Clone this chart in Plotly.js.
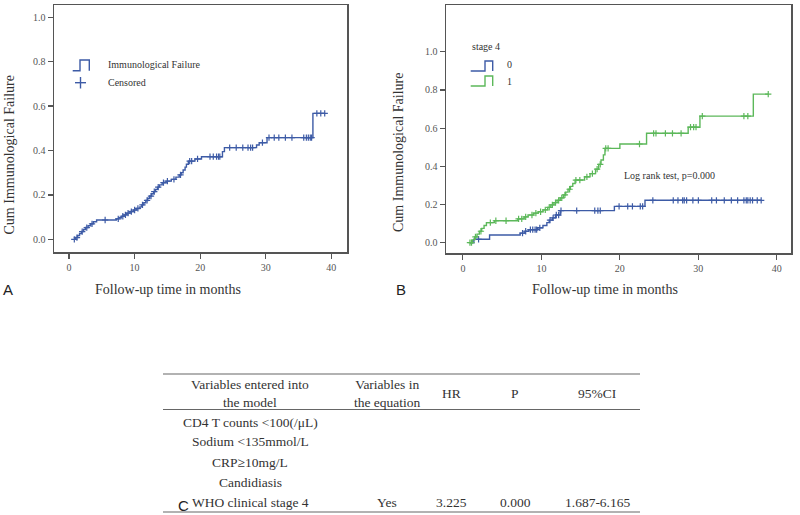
<!DOCTYPE html>
<html>
<head>
<meta charset="utf-8">
<script src="https://cdn.plot.ly/plotly-3.0.1.min.js"></script>
<style>html,body{margin:0;padding:0;background:#fff;}#chart{width:800px;height:515px;}</style>
</head>
<body>
<div id="chart"></div>
<script>
// ---------- Panel A: overall cumulative immunological failure ----------
const allStepTime = [0.8,1.0,1.3,1.6,1.9,2.2,2.5,2.9,3.3,3.7,4.2,7.2,7.6,8.0,8.4,8.8,9.3,9.8,10.3,10.8,11.1,11.4,11.7,12.0,12.3,12.6,12.9,13.2,13.5,13.8,14.2,14.8,15.6,16.3,16.8,17.1,17.4,17.7,17.9,18.2,19.2,20.2,23.4,23.7,28.6,29.0,30.2,37.2];
const allStepCum  = [0.0,0.008,0.017,0.026,0.035,0.044,0.053,0.061,0.070,0.079,0.087,0.092,0.097,0.104,0.110,0.118,0.125,0.132,0.139,0.146,0.155,0.165,0.175,0.185,0.195,0.205,0.215,0.225,0.235,0.245,0.255,0.262,0.270,0.280,0.290,0.300,0.312,0.325,0.338,0.352,0.362,0.372,0.395,0.413,0.425,0.435,0.458,0.567];
const allCensTime = [0.8,1.2,2.0,2.7,3.5,5.5,7.5,8.2,8.6,9.0,9.5,10.0,10.5,11.2,11.9,12.5,13.0,13.6,14.4,15.0,16.0,17.0,18.4,18.7,19.6,21.5,22.0,22.5,22.8,23.0,24.5,25.5,26.5,27.3,27.7,28.0,29.5,30.5,31.3,32.0,33.0,34.0,35.8,36.2,36.5,36.8,37.0,37.8,38.4,39.0];

// ---------- Panel B: by WHO stage 4 ----------
const stage0StepTime = [0.9,1.4,3.4,7.3,7.9,8.4,9.5,10.2,10.7,11.0,11.4,11.8,12.4,19.3,23.2];
const stage0StepCum  = [0.0,0.018,0.040,0.050,0.060,0.068,0.078,0.090,0.105,0.118,0.130,0.145,0.168,0.190,0.222];
const stage0CensTime = [2.0,7.6,8.0,8.6,8.9,9.2,9.4,9.8,11.1,11.5,11.9,12.2,12.5,14.5,16.8,17.2,17.5,19.9,21.0,21.6,22.6,22.9,24.2,26.8,27.4,28.0,28.2,28.5,29.3,30.0,31.7,32.3,33.3,34.2,35.0,35.8,36.1,36.3,36.6,36.9,37.5,38.0];
const stage1StepTime = [0.9,1.2,1.5,1.8,2.1,2.4,2.7,3.0,4.0,7.0,7.8,8.3,9.0,9.6,10.2,10.8,11.2,11.6,12.0,12.4,12.8,13.1,13.4,13.7,14.0,14.3,15.5,16.2,16.9,17.3,17.6,17.9,18.1,20.0,23.4,28.7,30.2,37.0];
const stage1StepCum  = [0.0,0.015,0.030,0.045,0.060,0.075,0.090,0.105,0.115,0.125,0.135,0.145,0.155,0.162,0.172,0.185,0.198,0.210,0.222,0.235,0.250,0.265,0.280,0.295,0.310,0.328,0.345,0.362,0.385,0.410,0.433,0.460,0.494,0.517,0.573,0.605,0.663,0.778];
const stage1CensTime = [0.9,1.1,1.6,2.3,3.5,4.2,5.5,7.1,7.5,8.0,8.8,9.3,9.9,10.5,11.0,11.4,11.8,12.2,12.6,13.0,13.6,14.4,14.9,15.8,16.5,17.1,17.5,18.2,18.5,22.5,24.3,24.6,25.8,26.7,27.8,29.0,29.4,29.7,30.5,35.8,36.3,38.9];

// ---------- Panel C: table ----------
const tableHeaders = ["Variables entered into<br>the model","Variables in<br>the equation","HR","P","95%CI"];
const tableVariables = ["CD4 T counts <100(/μL)","Sodium <135mmol/L","CRP≥10mg/L","Candidiasis","WHO clinical stage 4"];
const tableInEquation = ["","","","","Yes"];
const tableHR = ["","","","","3.225"];
const tableP = ["","","","","0.000"];
const tableCI = ["","","","","1.687-6.165"];

const tickVals = [0,0.2,0.4,0.6,0.8,1.0];
const tickText = ["0.0","0.2","0.4","0.6","0.8","1.0"];
const xTickVals = [0,10,20,30,40];

const BLUE = "#3d5ba6", GREEN = "#5cb85a";
const SERIF = "Liberation Serif, Times New Roman, serif";
const SANS = "Liberation Sans, Arial, sans-serif";

function stepAt(ts, vs, t) {
  let v = vs[0];
  for (let i = 0; i < ts.length; i++) if (ts[i] <= t) v = vs[i];
  return v;
}
function curve(ts, vs, cens, color, xa, ya) {
  const lastT = Math.max(ts[ts.length-1], Math.max(...cens));
  return {
    x: ts.concat([lastT]), y: vs.concat([vs[vs.length-1]]),
    xaxis: xa, yaxis: ya, type: "scatter", mode: "lines",
    line: {color: color, width: 1.4, shape: "hv"}, showlegend: false, hoverinfo: "skip"
  };
}
function censor(ts, vs, cens, color, xa, ya) {
  return {
    x: cens, y: cens.map(t => stepAt(ts, vs, t)),
    xaxis: xa, yaxis: ya, type: "scatter", mode: "markers",
    marker: {symbol: "cross-thin-open", size: 4.5, line: {color: color, width: 1.2}, color: color},
    showlegend: false, hoverinfo: "skip"
  };
}

const data = [
  curve(allStepTime, allStepCum, allCensTime, BLUE, "x", "y"),
  censor(allStepTime, allStepCum, allCensTime, BLUE, "x", "y"),
  curve(stage0StepTime, stage0StepCum, stage0CensTime, BLUE, "x2", "y2"),
  censor(stage0StepTime, stage0StepCum, stage0CensTime, BLUE, "x2", "y2"),
  curve(stage1StepTime, stage1StepCum, stage1CensTime, GREEN, "x2", "y2"),
  censor(stage1StepTime, stage1StepCum, stage1CensTime, GREEN, "x2", "y2")
];

const P = (px) => px / 800;
const Q = (py) => 1 - py / 515;

const axisCommon = {
  showline: true, mirror: true, linecolor: "#555", linewidth: 1.5,
  ticks: "outside", ticklen: 5, tickwidth: 1.2, tickcolor: "#555",
  showgrid: false, zeroline: false,
  tickfont: {family: SERIF, size: 10, color: "#555"}
};

const annotations = [];
const shapes = [];
function txt(text, x, y, size, opts) {
  annotations.push(Object.assign({
    text: text, x: P(x), y: Q(y), xref: "paper", yref: "paper",
    showarrow: false, xanchor: "center", yanchor: "middle",
    font: {family: SERIF, size: size, color: "#333"}
  }, opts || {}));
}
function path(d, color, width) {
  shapes.push({type: "path", path: d, xref: "paper", yref: "paper", line: {color: color, width: width || 1.3}});
}
function stepIcon(x0, x1, x2, yLow, yHigh, color) {
  const d = "M" + P(x0) + "," + Q(yLow) + " L" + P(x1) + "," + Q(yLow) + " L" + P(x1) + "," + Q(yHigh) +
            " L" + P(x2) + "," + Q(yHigh) + " L" + P(x2) + "," + Q(yLow);
  path(d, color, 1.4);
}

// Axis titles (placed as in the reference, offset from the axis centres)
txt("Follow-up time in months", 168, 289, 14);
txt("Follow-up time in months", 605, 289, 14);
txt("Cum Immunological Failure", 8.5, 155, 14, {textangle: -90});
txt("Cum Immunological Failure", 398, 153, 14, {textangle: -90});

// Legend A
stepIcon(72.7, 80, 89.3, 70.7, 60, BLUE);
path("M" + P(75) + "," + Q(82.7) + " L" + P(86) + "," + Q(82.7), BLUE, 1.4);
path("M" + P(80.5) + "," + Q(77) + " L" + P(80.5) + "," + Q(88.5), BLUE, 1.4);
txt("Immunological Failure", 106, 65, 10, {xanchor: "left"});
txt("Censored", 106, 83, 10, {xanchor: "left"});

// Legend B
txt("stage 4", 470, 46, 10, {xanchor: "left"});
stepIcon(470.7, 485, 492.7, 71, 61, BLUE);
stepIcon(470.7, 485, 492.7, 86, 76, GREEN);
txt("0", 505, 65, 10, {xanchor: "left"});
txt("1", 505, 81, 10, {xanchor: "left"});
txt("Log rank test, p=0.000", 622, 176, 10, {xanchor: "left"});

// Panel letters
txt("A", 7.5, 289, 15, {font: {family: SANS, size: 15, color: "#222"}});
txt("B", 401.5, 289, 15, {font: {family: SANS, size: 15, color: "#222"}});
txt("C", 183, 505, 15, {font: {family: SANS, size: 15, color: "#222"}});

// Table C
const colX = [250, 387, 452, 515, 597];
tableHeaders.forEach((h, i) => txt(h, colX[i], 393, 13.5));
const rowY = [422, 441, 462, 482, 502];
const cols = [tableVariables, tableInEquation, tableHR, tableP, tableCI];
cols.forEach((col, ci) => col.forEach((v, ri) => { if (v !== "") txt(v, colX[ci], rowY[ri], 13.5); }));
[374, 409.5, 512].forEach(y => shapes.push({type: "line", xref: "paper", yref: "paper",
  x0: P(163), x1: P(640), y0: Q(y), y1: Q(y), line: {color: "#666", width: 1.2}}));

const layout = {
  width: 800, height: 515,
  margin: {l: 0, r: 0, t: 0, b: 0},
  paper_bgcolor: "#fff", plot_bgcolor: "#fff",
  showlegend: false,
  xaxis: Object.assign({}, axisCommon, {domain: [P(54), P(347)], range: [-2.3, 42.4], tickvals: xTickVals, anchor: "y"}),
  yaxis: Object.assign({}, axisCommon, {domain: [Q(252), Q(5)], range: [-0.057, 1.055], tickvals: tickVals, ticktext: tickText, anchor: "x"}),
  xaxis2: Object.assign({}, axisCommon, {domain: [P(446), P(791)], range: [-2.15, 41.8], tickvals: xTickVals, anchor: "y2"}),
  yaxis2: Object.assign({}, axisCommon, {domain: [Q(253), Q(5)], range: [-0.054, 1.245], tickvals: tickVals, ticktext: tickText, anchor: "x2"}),
  annotations: annotations,
  shapes: shapes
};

Plotly.newPlot("chart", data, layout, {displayModeBar: false, staticPlot: true});
</script>
</body>
</html>
